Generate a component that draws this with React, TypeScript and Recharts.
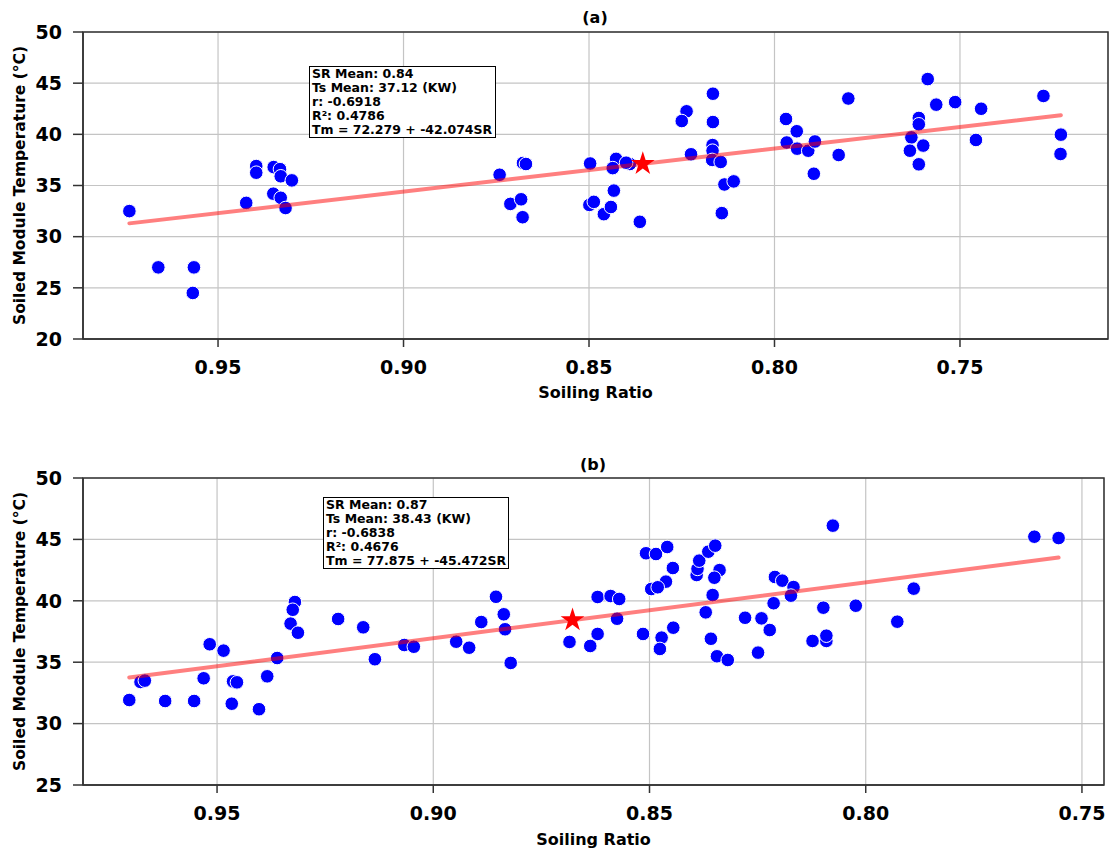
import React from 'react';
import { ScatterChart, Scatter, XAxis, YAxis, CartesianGrid, ReferenceArea } from 'recharts';

// panel (a)
const srA = [
  0.9739, 0.9661, 0.9565, 0.9568, 0.9424, 0.9397, 0.9397, 0.935, 0.9333, 0.9331, 0.9301, 0.9351, 0.9331, 0.9318,
  0.8741, 0.8678, 0.867, 0.8712, 0.8683, 0.8679, 0.8497, 0.8499, 0.8487, 0.846, 0.8441, 0.8433, 0.8427, 0.8436,
  0.839, 0.84, 0.8363, 0.8237, 0.825, 0.8166, 0.8166, 0.8225, 0.8167, 0.8167, 0.8168, 0.8145, 0.8135, 0.811, 0.8142,
  0.7969, 0.794, 0.7967, 0.7939, 0.7909, 0.7891, 0.7894, 0.7827, 0.7801, 0.7587, 0.7564, 0.7513, 0.7443, 0.7611,
  0.7611, 0.7631, 0.7635, 0.7599, 0.7611, 0.7457, 0.7275, 0.7228, 0.7229,
];
const tsA = [
  32.5, 27.0, 27.0, 24.5, 33.3, 36.9, 36.25, 36.8, 36.6, 35.9, 35.5, 34.2, 33.8, 32.8,
  36.05, 37.2, 37.1, 33.2, 33.65, 31.9, 37.15, 33.1, 33.4, 32.2, 32.9, 34.5, 37.6, 36.7,
  37.1, 37.23, 31.45, 42.25, 41.3, 43.97, 41.2, 38.05, 38.95, 38.4, 37.5, 37.3, 35.1, 35.4, 32.3,
  41.5, 40.3, 39.2, 38.6, 38.4, 39.3, 36.15, 37.98, 43.5, 45.4, 42.9, 43.15, 42.5, 41.6,
  40.98, 39.7, 38.4, 38.9, 37.07, 39.45, 43.75, 39.97, 38.08,
];
const fitSrA = [0.9739, 0.7228];
const fitTsA = [31.3, 41.87];
const meanA = { sr: 0.8355, t: 37.12 };
const statsA = ['SR Mean: 0.84', 'Ts Mean: 37.12 (KW)', 'r: -0.6918', 'R\u00b2: 0.4786', 'Tm = 72.279 + -42.074SR'];

// panel (b)
const srB = [
  0.9703, 0.9677, 0.9667, 0.962, 0.9553, 0.9531, 0.9517, 0.9485, 0.9463, 0.9454, 0.9466, 0.9403, 0.9384, 0.9361,
  0.932, 0.9325, 0.933, 0.9313, 0.922, 0.9162, 0.9135, 0.9067, 0.9045, 0.8947, 0.8917, 0.8889, 0.8855, 0.8837,
  0.8834, 0.8821, 0.8685, 0.8637, 0.862, 0.862, 0.859, 0.857, 0.8575, 0.8515, 0.8508, 0.8485, 0.8459, 0.8446,
  0.8462, 0.8496, 0.8481, 0.8472, 0.8476, 0.8445, 0.8391, 0.8389, 0.8385, 0.8364, 0.8348, 0.8338, 0.835, 0.8354,
  0.837, 0.8358, 0.8344, 0.8319, 0.8279, 0.8241, 0.8222, 0.8249, 0.8213, 0.821, 0.8193, 0.8167, 0.8173, 0.8098,
  0.8076, 0.8123, 0.8091, 0.8091, 0.8023, 0.7927, 0.7889, 0.761, 0.7554,
];
const tsB = [
  31.92, 33.39, 33.5, 31.84, 31.84, 33.69, 36.46, 35.94, 33.44, 33.36, 31.62, 31.17, 33.85, 35.34,
  39.9, 39.27, 38.14, 37.4, 38.52, 37.84, 35.24, 36.4, 36.26, 36.67, 36.18, 38.27, 40.33, 38.9,
  37.68, 34.94, 36.65, 36.32, 37.3, 40.31, 40.39, 40.15, 38.54, 37.3, 43.87, 43.81, 44.38, 42.67,
  41.56, 40.96, 41.1, 37.0, 36.08, 37.81, 42.1, 42.6, 43.27, 44.0, 44.49, 42.5, 41.88, 40.47,
  39.06, 36.91, 35.48, 35.18, 38.62, 38.57, 37.62, 35.78, 39.8, 41.94, 41.64, 41.12, 40.42, 39.44,
  46.12, 36.73, 36.73, 37.16, 39.6, 38.3, 40.99, 45.22, 45.11,
];
const fitSrB = [0.9703, 0.7554];
const fitTsB = [33.75, 43.53];
const meanB = { sr: 0.8678, t: 38.43 };
const statsB = ['SR Mean: 0.87', 'Ts Mean: 38.43 (KW)', 'r: -0.6838', 'R\u00b2: 0.4676', 'Tm = 77.875 + -45.472SR'];

const xTicks = [0.75, 0.8, 0.85, 0.9, 0.95];
const yTicksA = [20, 25, 30, 35, 40, 45, 50];
const yTicksB = [25, 30, 35, 40, 45, 50];

const toPts = (xs: number[], ys: number[]) => xs.map((sr, i) => ({ sr, t: ys[i] }));

const Dot = (p: any) => <circle cx={p.cx} cy={p.cy} r={6.8} fill="#0000ff" stroke="#ffffff" strokeWidth={1} />;

const Star = (p: any) => {
  const R = 12.5, r = R * 0.382;
  let d = '';
  for (let i = 0; i < 10; i++) {
    const a = -Math.PI / 2 + (i * Math.PI) / 5;
    const rad = i % 2 === 0 ? R : r;
    d += (i === 0 ? 'M' : 'L') + (p.cx + rad * Math.cos(a)).toFixed(2) + ',' + (p.cy + rad * Math.sin(a)).toFixed(2);
  }
  return <path d={d + 'Z'} fill="#ff0000" />;
};

const NoShape = () => <g />;

const axisStroke = '#333';
const tickStyle = { fill: '#000', fontSize: 19, fontWeight: 'bold' as const };
const labelStyle = { fill: '#000', fontSize: 16, fontWeight: 'bold' as const };

function Panel(props: {
  top: number; height: number; margin: any; xDomain: number[]; yDomain: number[]; yTicks: number[];
  xHeight: number; labelDy: number; pts: any[]; fit: any[]; mean: any;
}) {
  const { xDomain, yDomain } = props;
  return (
    <div style={{ position: 'absolute', left: 0, top: props.top }}>
      <ScatterChart width={1111} height={props.height} margin={props.margin}>
        <CartesianGrid stroke="#c4c4c4" strokeWidth={1.2} />
        <XAxis
          type="number" dataKey="sr" domain={xDomain} reversed allowDataOverflow ticks={xTicks}
          tickFormatter={(v: number) => v.toFixed(2)} height={props.xHeight} tickSize={8} tickMargin={14}
          tick={tickStyle} axisLine={{ stroke: axisStroke, strokeWidth: 1.5 }} tickLine={{ stroke: axisStroke, strokeWidth: 1.5 }}
          label={{ value: 'Soiling Ratio', position: 'center', dy: props.labelDy, ...labelStyle }}
        />
        <YAxis
          type="number" dataKey="t" domain={yDomain} allowDataOverflow ticks={props.yTicks} width={83}
          tickSize={10} tickMargin={11} tick={tickStyle}
          axisLine={{ stroke: axisStroke, strokeWidth: 1.5 }} tickLine={{ stroke: axisStroke, strokeWidth: 1.5 }}
          label={{ value: 'Soiled Module Temperature (\u00b0C)', angle: -90, position: 'center', dx: -22, ...labelStyle, fontSize: 15.5 }}
        />
        <ReferenceArea x1={xDomain[0]} x2={xDomain[1]} y1={yDomain[0]} y2={yDomain[1]} fill="none" stroke={axisStroke} strokeWidth={1.5} />
        <Scatter data={props.pts} shape={Dot} isAnimationActive={false} />
        <Scatter
          data={props.fit} shape={NoShape} isAnimationActive={false}
          line={{ stroke: '#ff0000', strokeOpacity: 0.5, strokeWidth: 4, strokeLinecap: 'round' }}
        />
        <Scatter data={[props.mean]} shape={Star} isAnimationActive={false} />
      </ScatterChart>
    </div>
  );
}

function StatsBox(props: { left: number; top: number; width: number; lines: string[] }) {
  return (
    <div
      style={{
        position: 'absolute', left: props.left, top: props.top, width: props.width, height: 72, boxSizing: 'border-box',
        border: '1.5px solid #000', background: '#fff', padding: '0 2px', fontSize: 12.5, lineHeight: '14px',
        fontWeight: 'bold', color: '#000', whiteSpace: 'nowrap',
      }}
    >
      {props.lines.map((l) => <div key={l}>{l}</div>)}
    </div>
  );
}

function Title(props: { x: number; y: number; text: string }) {
  return (
    <div style={{ position: 'absolute', left: props.x - 30, top: props.y - 10, width: 60, textAlign: 'center', fontSize: 16, lineHeight: '20px', fontWeight: 'bold' }}>
      {props.text}
    </div>
  );
}

export default function App() {
  return (
    <div style={{ position: 'absolute', left: 0, top: 0, width: 1111, height: 849, background: '#fff', fontFamily: '"DejaVu Sans", sans-serif' }}>
      <Panel
        top={0} height={425} margin={{ top: 32, right: 3, bottom: 0, left: 0 }} xDomain={[0.7101, 0.9864]} yDomain={[20, 50]}
        yTicks={yTicksA} xHeight={86} labelDy={10} pts={toPts(srA, tsA)} fit={toPts(fitSrA, fitTsA)} mean={meanA}
      />
      <Panel
        top={440} height={409} margin={{ top: 38, right: 7, bottom: 0, left: 0 }} xDomain={[0.7449, 0.981]} yDomain={[25, 50]}
        yTicks={yTicksB} xHeight={64} labelDy={22} pts={toPts(srB, tsB)} fit={toPts(fitSrB, fitTsB)} mean={meanB}
      />
      <StatsBox left={309} top={66} width={187} lines={statsA} />
      <StatsBox left={323} top={497} width={186} lines={statsB} />
      <Title x={595} y={18} text="(a)" />
      <Title x={593} y={465} text="(b)" />
    </div>
  );
}
